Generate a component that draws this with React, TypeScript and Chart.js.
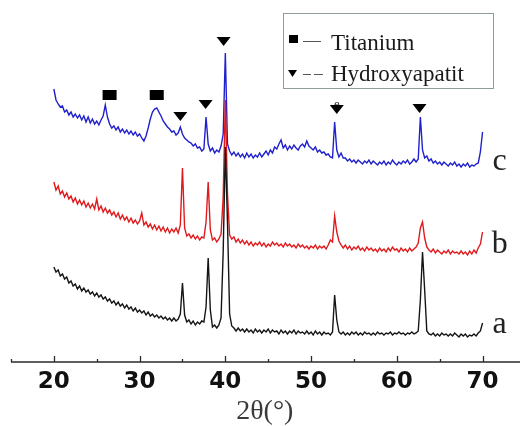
import React, { useEffect, useRef } from "react";
import { Chart, registerables } from "chart.js";

Chart.register(...registerables);

// 2θ sampling (degrees)
const twoTheta = [
  20, 20.25, 20.5, 20.75, 21, 21.25, 21.5, 21.75,
  22, 22.25, 22.5, 22.75, 23, 23.25, 23.5, 23.75,
  24, 24.25, 24.5, 24.75, 25, 25.25, 25.5, 25.75,
  26, 26.25, 26.5, 26.75, 27, 27.25, 27.5, 27.75,
  28, 28.25, 28.5, 28.75, 29, 29.25, 29.5, 29.75,
  30, 30.25, 30.5, 30.75, 31, 31.25, 31.5, 31.75,
  32, 32.25, 32.5, 32.75, 33, 33.25, 33.5, 33.75,
  34, 34.25, 34.5, 34.75, 35, 35.25, 35.5, 35.75,
  36, 36.25, 36.5, 36.75, 37, 37.25, 37.5, 37.75,
  38, 38.25, 38.5, 38.75, 39, 39.25, 39.5, 39.75,
  40, 40.25, 40.5, 40.75, 41, 41.25, 41.5, 41.75,
  42, 42.25, 42.5, 42.75, 43, 43.25, 43.5, 43.75,
  44, 44.25, 44.5, 44.75, 45, 45.25, 45.5, 45.75,
  46, 46.25, 46.5, 46.75, 47, 47.25, 47.5, 47.75,
  48, 48.25, 48.5, 48.75, 49, 49.25, 49.5, 49.75,
  50, 50.25, 50.5, 50.75, 51, 51.25, 51.5, 51.75,
  52, 52.25, 52.5, 52.75, 53, 53.25, 53.5, 53.75,
  54, 54.25, 54.5, 54.75, 55, 55.25, 55.5, 55.75,
  56, 56.25, 56.5, 56.75, 57, 57.25, 57.5, 57.75,
  58, 58.25, 58.5, 58.75, 59, 59.25, 59.5, 59.75,
  60, 60.25, 60.5, 60.75, 61, 61.25, 61.5, 61.75,
  62, 62.25, 62.5, 62.75, 63, 63.25, 63.5, 63.75,
  64, 64.25, 64.5, 64.75, 65, 65.25, 65.5, 65.75,
  66, 66.25, 66.5, 66.75, 67, 67.25, 67.5, 67.75,
  68, 68.25, 68.5, 68.75, 69, 69.25, 69.5, 69.75,
  70,
];

// sample c (blue), stacked intensity (a.u.)
const seriesC = [
  273, 262, 258, 255, 256, 250, 252, 247,
  250, 245, 248, 244, 247, 242, 246, 240,
  245, 239, 243, 238, 241, 237, 242, 246,
  257, 245, 238, 234, 236, 232, 235, 230,
  233, 229, 232, 228, 231, 227, 230, 226,
  228, 224, 221, 226, 234, 243, 250, 253,
  254, 250, 246, 241, 238, 235, 233, 230,
  231, 227, 229, 235, 228, 224, 222, 220,
  219, 216, 218, 214, 215, 211, 213, 245,
  218, 211, 214, 209, 212, 210, 216, 228,
  309, 218, 211, 207, 210, 206, 209, 205,
  208, 204, 209, 205, 208, 204, 207, 205,
  209, 205, 208, 211, 207, 212, 209, 215,
  213, 218, 222, 214, 217, 212, 216, 213,
  217, 214, 212, 216, 218, 215, 221, 216,
  214, 212, 215, 210, 212, 209, 210, 207,
  208, 205, 204, 240, 212, 205, 209, 204,
  204, 201, 203, 200, 202, 199, 202, 200,
  198, 201, 199, 202, 198, 201, 199, 197,
  200, 198, 201, 197, 200, 198, 202, 199,
  197, 200, 198, 201, 199, 202, 198, 200,
  203, 200, 203, 245, 212, 204, 206, 201,
  203, 199, 201, 198, 200, 197, 200, 198,
  196, 199, 197, 200, 196, 198, 195, 198,
  196, 199, 195, 197, 196, 198, 199, 210,
  230,
];

// sample b (red)
const seriesB = [
  180, 172, 176, 168, 171, 165, 169, 163,
  166, 160, 164, 158, 162, 157, 161, 155,
  159, 154, 158, 153, 163, 152, 156, 150,
  154, 149, 152, 147, 150, 145, 149, 143,
  147, 142, 145, 140, 144, 139, 142, 138,
  141, 149, 137, 140, 135, 138, 133, 137,
  132, 136, 131, 135, 130, 134, 129, 133,
  130, 134, 129, 137, 194, 134, 126, 128,
  124, 127, 123, 126, 122, 125, 124, 140,
  180, 132, 122, 124, 120, 123, 128, 165,
  262, 168, 127, 123, 125, 120, 123, 119,
  122, 118, 121, 117, 120, 116, 119, 117,
  120, 116, 119, 115, 118, 116, 120, 117,
  119, 116, 118, 115, 119, 116, 118, 115,
  117, 114, 118, 115, 117, 114, 116, 113,
  116, 114, 117, 113, 116, 114, 116, 113,
  117, 122, 120, 146, 130, 121, 117, 114,
  117, 113, 116, 112, 115, 113, 116, 112,
  114, 111, 115, 112, 114, 111, 113, 110,
  114, 111, 113, 110, 114, 111, 115, 112,
  113, 110, 114, 111, 113, 110, 114, 111,
  113, 115, 119, 134, 140, 124, 115, 112,
  110, 113, 109, 112, 110, 108, 111, 109,
  112, 108, 111, 109, 110, 108, 111, 108,
  110, 107, 111, 108, 112, 109, 114, 118,
  130,
];

// sample a (black)
const seriesA = [
  95, 90, 92, 86, 88, 83, 85, 79,
  81, 76, 78, 73, 76, 71, 74, 70,
  72, 68, 70, 66, 69, 65, 67, 63,
  65, 61, 63, 59, 61, 57, 60, 56,
  58, 54, 57, 53, 55, 51, 54, 50,
  52, 49, 51, 47, 50, 46, 48, 45,
  47, 44, 46, 43, 45, 42, 44, 41,
  44, 41, 43, 48, 79, 47, 40, 42,
  38, 41, 37, 40, 38, 41, 40, 55,
  104, 52, 35, 37, 34, 37, 44, 110,
  215, 140, 48, 36, 34, 31, 34, 31,
  33, 30, 33, 30, 32, 29, 33, 30,
  32, 29, 32, 30, 33, 29, 32, 30,
  31, 28, 32, 29, 31, 28, 31, 29,
  32, 28, 31, 29, 30, 28, 31, 28,
  30, 27, 31, 28, 30, 27, 30, 28,
  29, 27, 30, 67, 42, 30, 28, 30,
  27, 29, 27, 30, 28, 30, 27, 29,
  27, 30, 28, 29, 27, 29, 27, 30,
  28, 29, 27, 29, 28, 30, 27, 29,
  28, 30, 28, 29, 27, 29, 28, 30,
  28, 29, 31, 62, 110, 72, 31, 28,
  27, 29, 26, 28, 26, 29, 27, 28,
  26, 28, 26, 29, 27, 25, 28, 26,
  28, 25, 27, 26, 28, 26, 29, 31,
  39,
];

// Phase markers (2θ, height)
const titaniumX = [26.5, 32.0];
const titaniumY = [267, 267];
const hapX = [34.75, 37.7, 39.8, 53.0, 62.65];
const hapY = [246, 258, 321, 253, 254];

// Axis ticks
const majorTicks = [20, 30, 40, 50, 60, 70];
const minorTicks = [15, 25, 35, 45, 55, 65];

// Curve labels
const curveLabels = ["c", "b", "a"];
const curveLabelY = [192, 109, 29];
const curveLabelX = 72.0;

const legendItems = ["Titanium", "Hydroxyapatit"];

const toPts = (ys: number[]) => twoTheta.map((x, i) => ({ x, y: ys[i] }));

export default function App() {
  const ref = useRef<HTMLCanvasElement>(null);

  useEffect(() => {
    if (!ref.current) return;

    const overlay = {
      id: "overlay",
      afterDraw(chart: any) {
        const ctx = chart.ctx;
        const xs = chart.scales.x;
        const ys = chart.scales.y;
        const area = chart.chartArea;
        ctx.save();
        // axis line
        const yAxis = area.bottom;
        ctx.strokeStyle = "#2a2a2a";
        ctx.lineWidth = 1.5;
        ctx.beginPath();
        ctx.moveTo(area.left, yAxis);
        ctx.lineTo(area.right, yAxis);
        ctx.stroke();
        ctx.lineWidth = 1.3;
        majorTicks.forEach((v) => {
          const px = Math.round(xs.getPixelForValue(v)) + 0.5;
          ctx.beginPath();
          ctx.moveTo(px, yAxis);
          ctx.lineTo(px, yAxis - 6);
          ctx.stroke();
        });
        minorTicks.forEach((v) => {
          const px = Math.round(xs.getPixelForValue(v)) + 0.5;
          ctx.beginPath();
          ctx.moveTo(px, yAxis);
          ctx.lineTo(px, yAxis - 3);
          ctx.stroke();
        });
        // tick labels
        ctx.fillStyle = "#111";
        ctx.font = "bold 23px 'DejaVu Sans'";
        ctx.textAlign = "center";
        ctx.textBaseline = "middle";
        majorTicks.forEach((v) => {
          ctx.fillText(String(v), xs.getPixelForValue(v), yAxis + 20);
        });
        // axis title
        ctx.fillStyle = "#3a3a3a";
        ctx.font = "28px 'Liberation Serif'";
        ctx.fillText("2θ(°)", xs.getPixelForValue(44.6), yAxis + 50);

        // curve labels
        ctx.fillStyle = "#222";
        ctx.font = "32px 'Liberation Serif'";
        ctx.textAlign = "center";
        ctx.textBaseline = "alphabetic";
        curveLabels.forEach((t, i) => {
          ctx.fillText(t, xs.getPixelForValue(curveLabelX), ys.getPixelForValue(curveLabelY[i]));
        });

        // phase markers
        ctx.fillStyle = "#000";
        titaniumX.forEach((v, i) => {
          const px = xs.getPixelForValue(v);
          const py = ys.getPixelForValue(titaniumY[i]);
          ctx.fillRect(px - 7, py - 5, 14, 10);
        });
        // small "e" above the 53° marker
        ctx.font = "13px 'Liberation Serif'";
        ctx.fillStyle = "#222";
        ctx.fillText("e", xs.getPixelForValue(53.0), ys.getPixelForValue(hapY[3]) - 1);
        ctx.fillStyle = "#000";
        hapX.forEach((v, i) => {
          const px = xs.getPixelForValue(v);
          const py = ys.getPixelForValue(hapY[i]);
          ctx.beginPath();
          ctx.moveTo(px - 7, py - 4);
          ctx.lineTo(px + 7, py - 4);
          ctx.lineTo(px, py + 5);
          ctx.closePath();
          ctx.fill();
        });

        // legend box
        ctx.strokeStyle = "#8f9c9c";
        ctx.lineWidth = 1;
        ctx.strokeRect(283.5, 13.5, 210, 75);
        ctx.fillStyle = "#000";
        ctx.fillRect(289, 35, 9, 8);
        ctx.beginPath();
        ctx.moveTo(288, 70);
        ctx.lineTo(297, 70);
        ctx.lineTo(292.5, 77);
        ctx.closePath();
        ctx.fill();
        ctx.strokeStyle = "#555";
        ctx.lineWidth = 1;
        ctx.beginPath();
        ctx.moveTo(303, 41.5);
        ctx.lineTo(321, 41.5);
        ctx.stroke();
        ctx.beginPath();
        ctx.moveTo(303, 74.5);
        ctx.lineTo(311, 74.5);
        ctx.moveTo(314, 74.5);
        ctx.lineTo(323, 74.5);
        ctx.stroke();
        ctx.fillStyle = "#1a1a1a";
        ctx.font = "23px 'Liberation Serif'";
        ctx.textAlign = "left";
        ctx.textBaseline = "alphabetic";
        ctx.fillText(legendItems[0], 331, 50);
        ctx.fillText(legendItems[1], 331, 81);
        ctx.restore();
      },
    };

    const chart = new Chart(ref.current, {
      type: "line",
      data: {
        datasets: [
          { label: "a", data: toPts(seriesA), borderColor: "#151515", borderWidth: 1.4 },
          { label: "b", data: toPts(seriesB), borderColor: "#e01a1c", borderWidth: 1.4 },
          { label: "c", data: toPts(seriesC), borderColor: "#2020cc", borderWidth: 1.4 },
        ],
      },
      options: {
        responsive: false,
        animation: false,
        events: [],
        parsing: false as any,
        elements: { point: { radius: 0 }, line: { tension: 0 } },
        layout: { padding: { left: 11, right: 0, top: 0, bottom: 64 } },
        scales: {
          x: { type: "linear", min: 15, max: 74.37, display: false },
          y: { type: "linear", min: 0, max: 362, display: false },
        },
        plugins: { legend: { display: false }, tooltip: { enabled: false } },
      },
      plugins: [overlay],
    });
    return () => chart.destroy();
  }, []);

  return (
    <div style={{ position: "fixed", left: 0, top: 0, width: 520, height: 426, background: "#fff" }}>
      <canvas ref={ref} width={520} height={426} />
    </div>
  );
}
